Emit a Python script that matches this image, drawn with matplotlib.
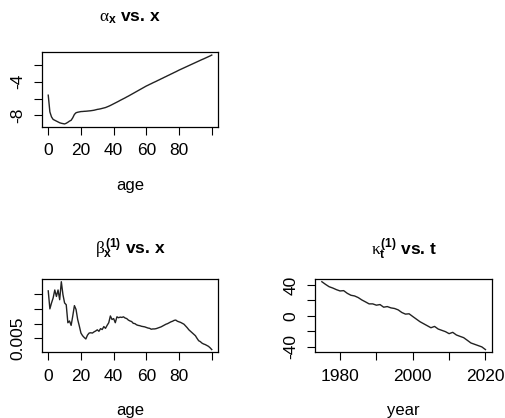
import numpy as np
import matplotlib
matplotlib.use('Agg')
import matplotlib.pyplot as plt

plt.rcParams['font.family'] = ['Liberation Sans', 'DejaVu Sans']
plt.rcParams['mathtext.fontset'] = 'custom'
plt.rcParams['mathtext.rm'] = 'Liberation Sans:bold'
plt.rcParams['mathtext.it'] = 'Liberation Serif'
plt.rcParams['mathtext.bf'] = 'Liberation Sans:bold'

# data
ages = list(range(0, 101))
alpha_x = [-5.6, -7.6, -8.2, -8.5, -8.6, -8.7, -8.8, -8.9, -8.96, -9.0,
           -9.04, -8.96, -8.84, -8.7, -8.6, -8.3, -7.9, -7.7, -7.64, -7.6,
           -7.56, -7.55, -7.53, -7.52, -7.5, -7.48, -7.46, -7.43, -7.4, -7.35,
           -7.3, -7.27, -7.23, -7.18, -7.13, -7.08, -7.0, -6.92, -6.83, -6.73,
           -6.63, -6.53, -6.43, -6.33, -6.22, -6.12, -6.02, -5.92, -5.81, -5.71,
           -5.6, -5.49, -5.38, -5.27, -5.16, -5.05, -4.94, -4.83, -4.72, -4.61,
           -4.5, -4.41, -4.31, -4.22, -4.12, -4.03, -3.94, -3.84, -3.75, -3.65,
           -3.56, -3.46, -3.37, -3.27, -3.18, -3.08, -2.99, -2.89, -2.8, -2.7,
           -2.6, -2.51, -2.42, -2.33, -2.24, -2.15, -2.06, -1.97, -1.88, -1.79,
           -1.7, -1.61, -1.52, -1.43, -1.34, -1.26, -1.17, -1.08, -0.99, -0.9,
           -0.8]
beta_x = [0.0211, 0.0150, 0.0170, 0.0187, 0.0214, 0.0192, 0.0214, 0.0181, 0.0242, 0.0198,
          0.0170, 0.0164, 0.0103, 0.0109, 0.0094, 0.0126, 0.0161, 0.0148, 0.0114, 0.0092,
          0.0068, 0.0059, 0.0053, 0.0048, 0.0061, 0.0068, 0.0069, 0.0068, 0.0072, 0.0075,
          0.0079, 0.0074, 0.0083, 0.0080, 0.0090, 0.0084, 0.0094, 0.0103, 0.0126, 0.0114,
          0.0117, 0.0103, 0.0123, 0.0120, 0.0122, 0.0121, 0.0123, 0.0119, 0.0117, 0.0112,
          0.0109, 0.0107, 0.0101, 0.0100, 0.0096, 0.0094, 0.0093, 0.0091, 0.0090, 0.0089,
          0.0087, 0.0085, 0.0084, 0.0081, 0.0082, 0.0082, 0.0083, 0.0085, 0.0087, 0.0089,
          0.0092, 0.0095, 0.0098, 0.0100, 0.0103, 0.0106, 0.0108, 0.0111, 0.0112, 0.0108,
          0.0106, 0.0104, 0.0101, 0.0098, 0.0092, 0.0086, 0.0079, 0.0074, 0.0069, 0.0064,
          0.0059, 0.0050, 0.0042, 0.0039, 0.0034, 0.0031, 0.0029, 0.0026, 0.0023, 0.0018,
          0.0012]
years = list(range(1975, 2021))
kappa_t = [44.3, 40.9, 37.8, 36.1, 34.0, 32.3, 32.7, 29.2, 26.7, 25.8,
           23.7, 20.6, 18.1, 15.5, 15.5, 13.8, 14.6, 11.2, 12.0, 10.3,
           9.5, 7.7, 4.3, 2.2, 2.6, -0.9, -4.3, -7.7, -10.3, -12.9,
           -15.5, -13.8, -17.2, -18.9, -20.6, -23.2, -21.5, -24.9, -26.7, -28.4,
           -31.8, -35.3, -37.0, -38.7, -40.4, -43.9]

age_ticks = [0, 20, 40, 60, 80, 100]
age_labels = ['0', '20', '40', '60', '80', '']
year_ticks = [1980, 1990, 2000, 2010, 2020]
year_labels = ['1980', '', '2000', '', '2020']

W, H = 506, 418
fig = plt.figure(figsize=(W / 100, H / 100), dpi=100)


def make_ax(l, t, r, b):
    # box given in pixels of the target picture
    return fig.add_axes([l / W, 1 - b / H, (r - l) / W, (b - t) / H])


def style(ax, title, xlabel, title_off):
    ax.margins(0.04)
    ax.tick_params(direction='out', length=6, width=0.8, pad=6,
                   labelsize=12.5, colors='black')
    for lab in ax.get_yticklabels():
        lab.set_rotation(90)
        lab.set_va('center')
    for s in ax.spines.values():
        s.set_linewidth(0.9)
    ax.annotate(title, xy=(0.5, 1), xycoords='axes fraction',
                xytext=(0, title_off), textcoords='offset points',
                ha='center', va='center', fontsize=12.5, fontweight='bold')
    ax.annotate(xlabel, xy=(0.5, 0), xycoords='axes fraction',
                xytext=(0, -42), textcoords='offset points',
                ha='center', va='center', fontsize=12)


ax1 = make_ax(41.7, 52.3, 218.3, 126.7)
ax1.plot(ages, alpha_x, color='#222222', lw=1.0)
ax1.set_xticks(age_ticks, age_labels)
ax1.set_yticks([-8, -6, -4, -2], ['-8', '', '-4', ''])
style(ax1, r'$\alpha_{\mathrm{x}}$ vs. x', 'age', 24.5)

ax2 = make_ax(41.7, 279, 218.3, 352.3)
ax2.plot(ages, beta_x, color='#222222', lw=1.0)
ax2.set_xticks(age_ticks, age_labels)
ax2.set_yticks([0.005, 0.010, 0.015, 0.020], ['0.005', '', '', ''])
style(ax2, r'$\beta_{\mathrm{x}}^{\mathrm{(1)}}$ vs. x', 'age', 21.5)

ax3 = make_ax(315.3, 279, 492, 352.3)
ax3.plot(years, kappa_t, color='#222222', lw=1.0)
ax3.set_xticks(year_ticks, year_labels)
ax3.set_yticks([-40, -20, 0, 20, 40], ['-40', '', '0', '', '40'])
style(ax3, r'$\kappa_{\mathrm{t}}^{\mathrm{(1)}}$ vs. t', 'year', 21.5)

fig.savefig('out.png', dpi=100)
